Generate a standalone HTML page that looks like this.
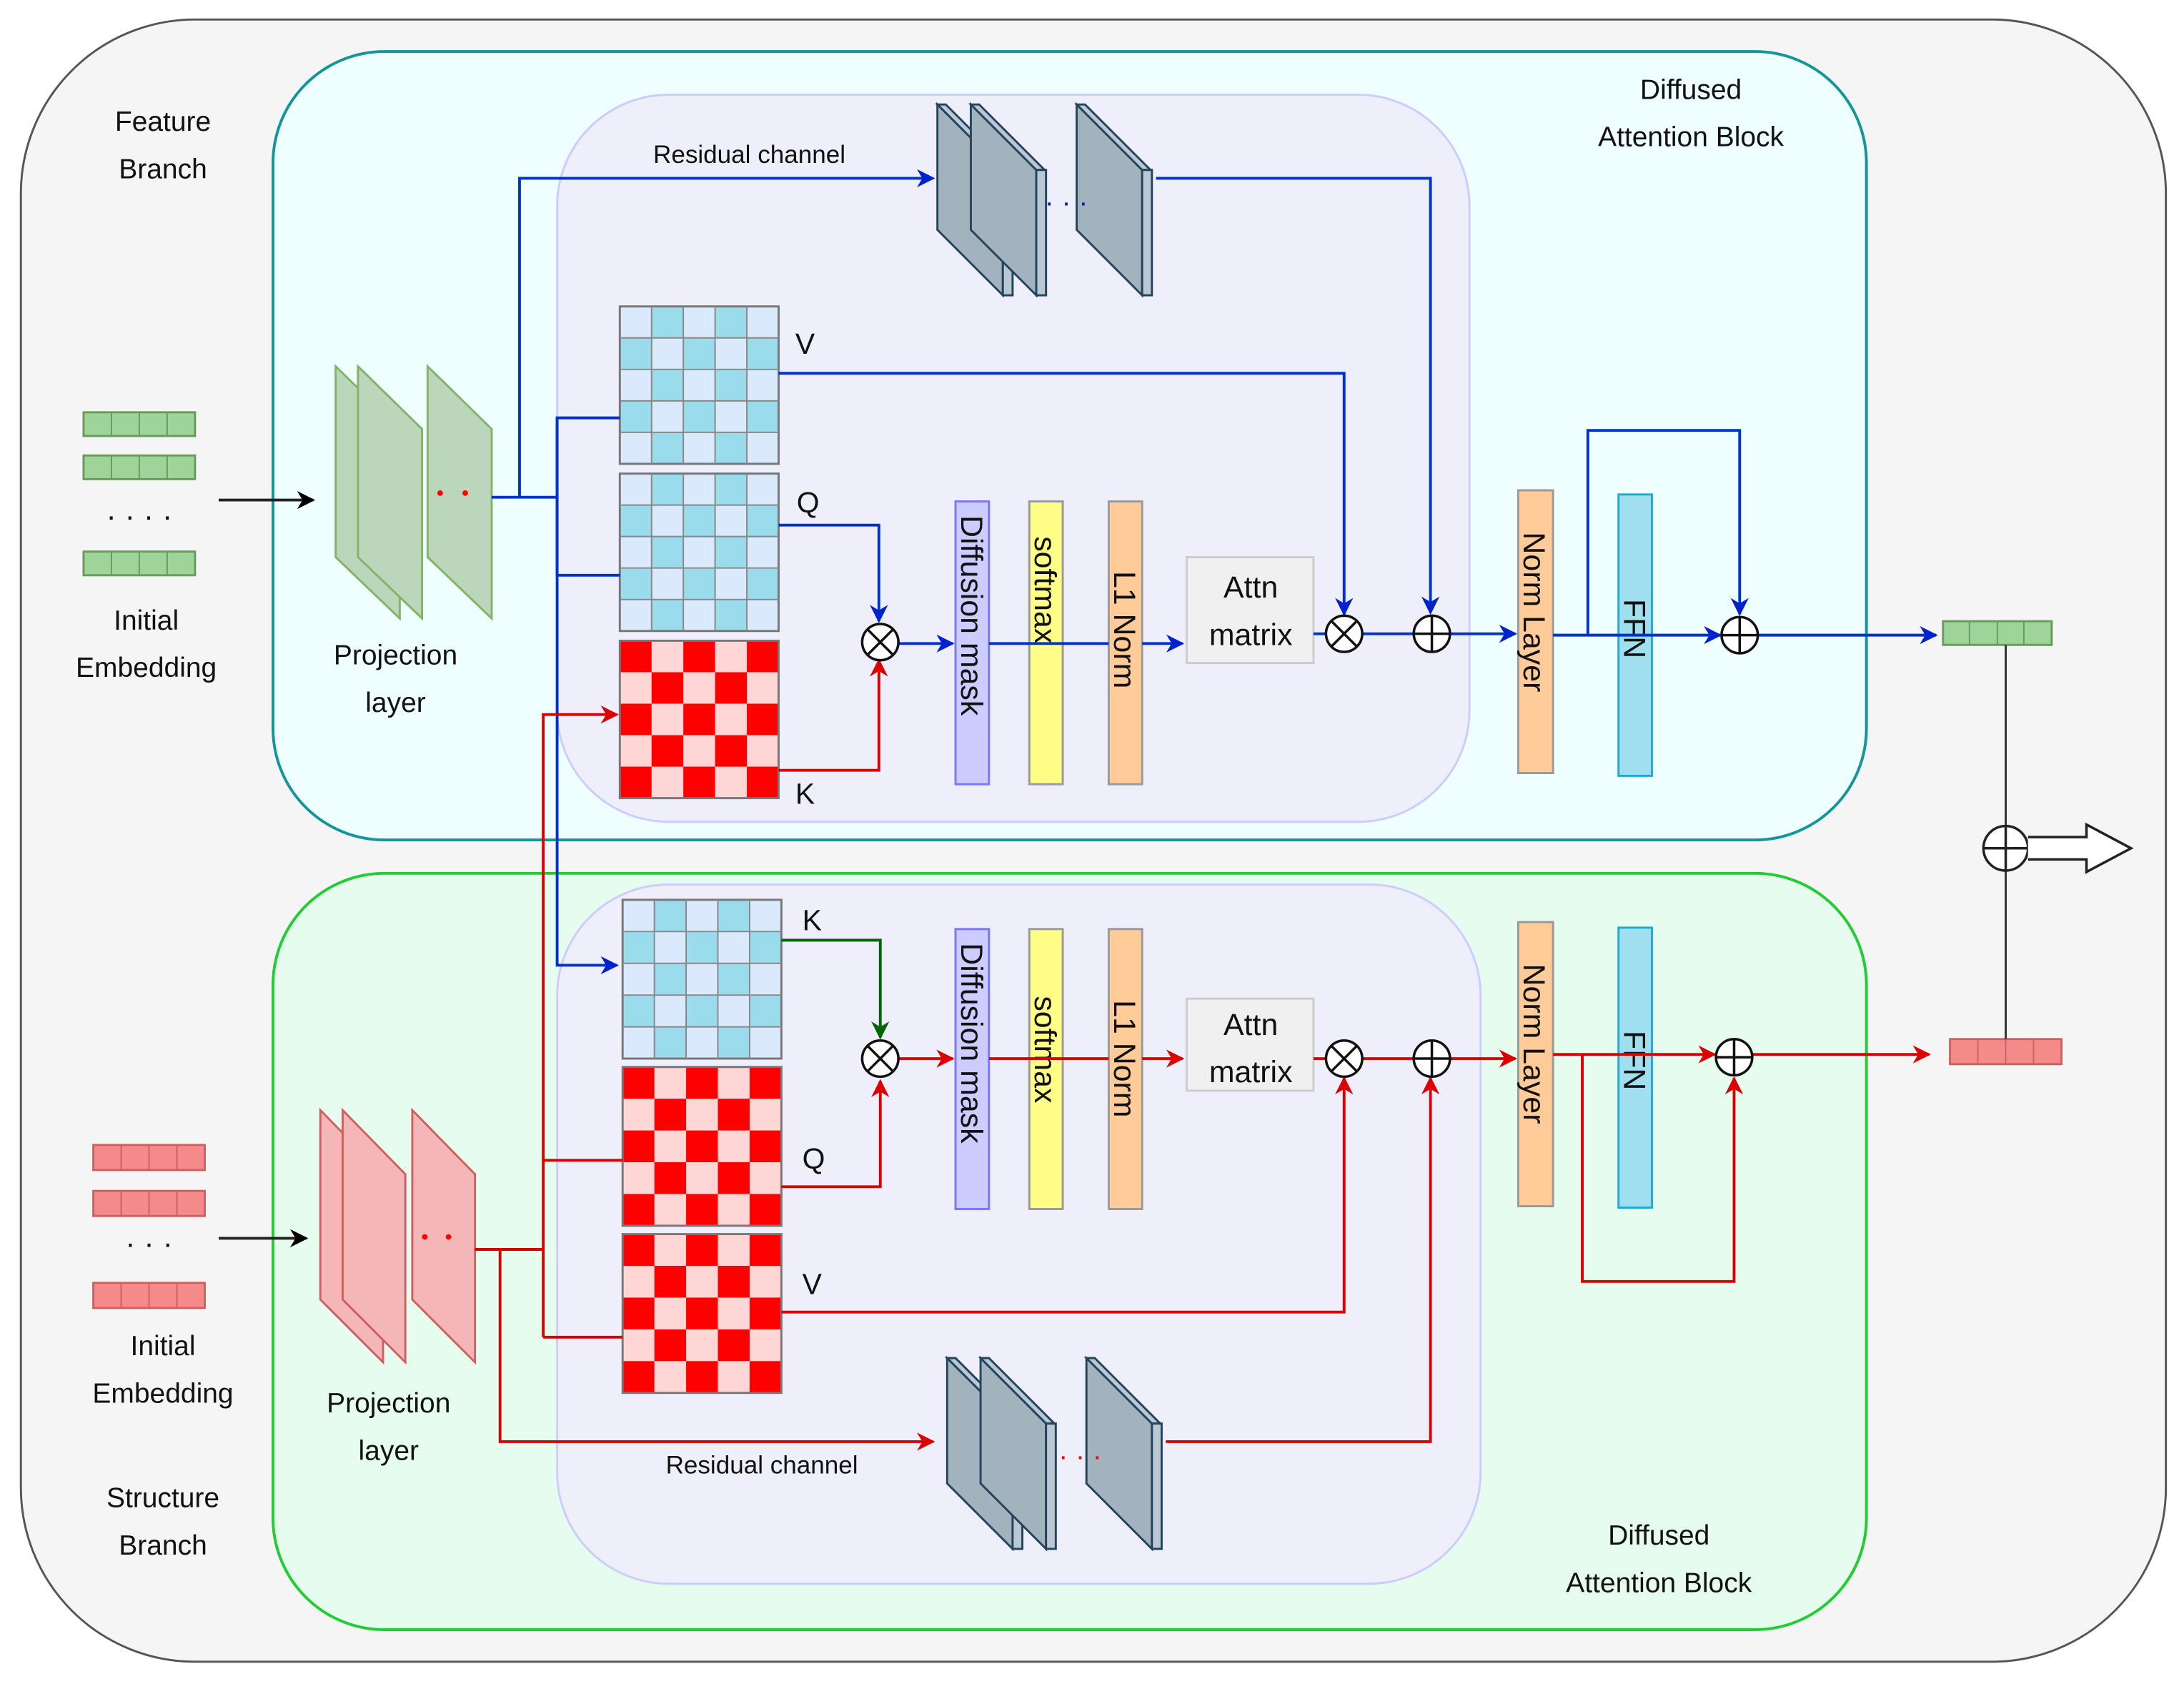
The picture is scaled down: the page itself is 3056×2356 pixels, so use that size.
<!DOCTYPE html>
<html><head><meta charset="utf-8">
<style>html,body{margin:0;padding:0;background:#fff}svg{display:block}text{font-family:"Liberation Sans",sans-serif}</style>
</head><body>
<svg width="3056" height="2356" viewBox="0 0 1568 1209" preserveAspectRatio="none" xmlns="http://www.w3.org/2000/svg">
<defs>
<pattern id="pb" width="0.4" height="0.4" patternUnits="objectBoundingBox" patternContentUnits="objectBoundingBox">
<rect width="0.4" height="0.4" fill="#dae9fb"/><rect x="0.2" width="0.2" height="0.2" fill="#9adcec"/><rect y="0.2" width="0.2" height="0.2" fill="#9adcec"/>
</pattern>
<pattern id="pr" width="0.4" height="0.4" patternUnits="objectBoundingBox" patternContentUnits="objectBoundingBox">
<rect width="0.4" height="0.4" fill="#ff0000"/><rect x="0.2" width="0.2" height="0.2" fill="#ffd6d6"/><rect y="0.2" width="0.2" height="0.2" fill="#ffd6d6"/>
</pattern>
<marker id="ab" viewBox="0 0 10 10" refX="9" refY="5" markerWidth="13" markerHeight="13" orient="auto" markerUnits="userSpaceOnUse"><path d="M0,0 L10,5 L0,10 L3,5z" fill="#0022cc"/></marker>
<marker id="ar" viewBox="0 0 10 10" refX="9" refY="5" markerWidth="13" markerHeight="13" orient="auto" markerUnits="userSpaceOnUse"><path d="M0,0 L10,5 L0,10 L3,5z" fill="#dd0000"/></marker>
<marker id="ag" viewBox="0 0 10 10" refX="9" refY="5" markerWidth="13" markerHeight="13" orient="auto" markerUnits="userSpaceOnUse"><path d="M0,0 L10,5 L0,10 L3,5z" fill="#006600"/></marker>
<marker id="ak" viewBox="0 0 10 10" refX="9" refY="5" markerWidth="13" markerHeight="13" orient="auto" markerUnits="userSpaceOnUse"><path d="M0,0 L10,5 L0,10 L3,5z" fill="#000"/></marker>
<style>
.ab{marker-end:url(#ab)} .ar{marker-end:url(#ar)} .ag{marker-end:url(#ag)}
</style>
</defs>
<rect x="0" y="0" width="1568" height="1209" fill="#fff"/>
<rect x="15" y="14" width="1540" height="1179" rx="125" fill="#f5f5f5" stroke="#555" stroke-width="1.5"/>
<rect x="196" y="37" width="1144" height="566" rx="80" fill="#effefe" stroke="#12969a" stroke-width="2"/>
<rect x="196" y="627" width="1144" height="543" rx="80" fill="#e6fcee" stroke="#22cc33" stroke-width="2"/>
<rect x="400" y="68" width="655" height="522" rx="80" fill="#efeefb" stroke="#ccccff" stroke-width="1.5"/>
<rect x="400" y="635" width="663" height="502" rx="80" fill="#efeefb" stroke="#ccccff" stroke-width="1.5"/>

<g font-size="20" fill="#111" text-anchor="middle">
<text x="117" y="94">Feature</text><text x="117" y="128">Branch</text>
<text x="105" y="452">Initial</text><text x="105" y="486">Embedding</text>
<text x="284" y="477">Projection</text><text x="284" y="511">layer</text>
<text x="1214" y="71">Diffused</text><text x="1214" y="105">Attention Block</text>
<text x="1191" y="1109">Diffused</text><text x="1191" y="1143">Attention Block</text>
<text x="117" y="1082">Structure</text><text x="117" y="1116">Branch</text>
<text x="117" y="973">Initial</text><text x="117" y="1007">Embedding</text>
<text x="279" y="1014">Projection</text><text x="279" y="1048">layer</text>
<text x="538" y="117" font-size="18">Residual channel</text>
<text x="547" y="1058" font-size="18">Residual channel</text>
</g>
<g font-size="21" fill="#111">
<text x="571" y="254">V</text><text x="572" y="368">Q</text><text x="571" y="577">K</text>
<text x="576" y="668">K</text><text x="576" y="839">Q</text><text x="576" y="929">V</text>
</g>

<g stroke="#6a9a5a" stroke-width="1.5" fill="#9ed49a">
<rect x="60" y="296" width="80" height="17"/><rect x="60" y="327" width="80" height="17"/><rect x="60" y="396" width="80" height="17"/>
<rect x="1395" y="446" width="78" height="17"/>
</g>
<g stroke="#6a9a5a" stroke-width="1">
<path d="M80,296v17M100,296v17M120,296v17M80,327v17M100,327v17M120,327v17M80,396v17M100,396v17M120,396v17M1414,446v17M1434,446v17M1453,446v17"/>
</g>
<g stroke="#d06060" stroke-width="1.5" fill="#f58a8a">
<rect x="67" y="822" width="80" height="18"/><rect x="67" y="855" width="80" height="18"/><rect x="67" y="921" width="80" height="18"/>
<rect x="1400" y="746" width="80" height="18"/>
</g>
<g stroke="#d06060" stroke-width="1">
<path d="M87,822v18M107,822v18M127,822v18M87,855v18M107,855v18M127,855v18M87,921v18M107,921v18M127,921v18M1420,746v18M1440,746v18M1460,746v18"/>
</g>
<g font-size="22" fill="#111" text-anchor="middle"><text x="100" y="378">· · · ·</text><text x="107" y="900">· · ·</text></g>

<g fill="#bcd6bc" stroke="#82b366" stroke-width="1.5">
<polygon points="241,263 287,308 287,444 241,400"/>
<polygon points="257,263 303,308 303,444 257,400"/>
<polygon points="307,263 353,308 353,444 307,400"/>
</g>
<circle cx="316" cy="354" r="2" fill="red"/><circle cx="334" cy="354" r="2" fill="red"/>
<g fill="#f4b6b6" stroke="#d06060" stroke-width="1.5">
<polygon points="230,797 275,843 275,978 230,933"/>
<polygon points="246,797 291,843 291,978 246,933"/>
<polygon points="296,797 341,843 341,978 296,933"/>
</g>
<circle cx="305" cy="888" r="2" fill="red"/><circle cx="322" cy="888" r="2" fill="red"/>

<g stroke="#23445d" stroke-width="1.5">
<g id="blk"><polygon points="673,75 720,122 720,212 673,165" fill="#a3b3bd"/><polygon points="673,75 679,75 726,122 720,122" fill="#bac8d3"/><rect x="720" y="122" width="7" height="90" fill="#bac8d3"/></g>
<use href="#blk" x="24"/>
<use href="#blk" x="100"/>
<use href="#blk" x="7" y="900"/>
<use href="#blk" x="31" y="900"/>
<use href="#blk" x="107" y="900"/>
</g>
<g font-size="20" fill="#0022cc"><text x="750" y="152">· · ·</text></g>
<g font-size="20" fill="#ff0000"><text x="760" y="1052">· · ·</text></g>

<rect x="445" y="220" width="114" height="113" fill="url(#pb)" stroke="#777" stroke-width="1.5"/>
<rect x="445" y="340" width="114" height="113" fill="url(#pb)" stroke="#777" stroke-width="1.5"/>
<rect x="445" y="460" width="114" height="113" fill="url(#pr)" stroke="#777" stroke-width="1.5"/>
<rect x="447" y="646" width="114" height="114" fill="url(#pb)" stroke="#777" stroke-width="1.5"/>
<rect x="447" y="766" width="114" height="114" fill="url(#pr)" stroke="#777" stroke-width="1.5"/>
<rect x="447" y="886" width="114" height="114" fill="url(#pr)" stroke="#777" stroke-width="1.5"/>
<g stroke="#888" stroke-width="1" fill="none">
<path d="M467.8,220v113M490.6,220v113M513.4,220v113M536.2,220v113M445,242.6h114M445,265.2h114M445,287.8h114M445,310.4h114"/>
<path d="M467.8,340v113M490.6,340v113M513.4,340v113M536.2,340v113M445,362.6h114M445,385.2h114M445,407.8h114M445,430.4h114"/>
<path d="M469.8,646v114M492.6,646v114M515.4,646v114M538.2,646v114M447,668.8h114M447,691.6h114M447,714.4h114M447,737.2h114"/>
</g>

<g stroke-width="1.5">
<rect x="686" y="360" width="24" height="203" fill="#ccccff" stroke="#7777ff"/>
<rect x="739" y="360" width="24" height="203" fill="#ffff88" stroke="#999"/>
<rect x="796" y="360" width="24" height="203" fill="#ffcc99" stroke="#999"/>
<rect x="1090" y="352" width="25" height="203" fill="#ffcc99" stroke="#999"/>
<rect x="1162" y="355" width="24" height="202" fill="#a0dff0" stroke="#22aacc"/>
<rect x="686" y="667" width="24" height="201" fill="#ccccff" stroke="#7777ff"/>
<rect x="739" y="667" width="24" height="201" fill="#ffff88" stroke="#999"/>
<rect x="796" y="667" width="24" height="201" fill="#ffcc99" stroke="#999"/>
<rect x="1090" y="662" width="25" height="204" fill="#ffcc99" stroke="#999"/>
<rect x="1162" y="666" width="24" height="201" fill="#a0dff0" stroke="#22aacc"/>
<rect x="852" y="400" width="91" height="76" fill="#f0f0f0" stroke="#ccc"/>
<rect x="852" y="717" width="91" height="66" fill="#f0f0f0" stroke="#ccc"/>
</g>
<g font-size="22" fill="#111" text-anchor="middle">
<text x="898" y="429">Attn</text><text x="898" y="463">matrix</text>
<text x="898" y="743">Attn</text><text x="898" y="777">matrix</text>
</g>
<g font-size="22" fill="#111">
<text transform="translate(690,370) rotate(90)">Diffusion mask</text>
<text transform="translate(743,385) rotate(90)">softmax</text>
<text transform="translate(800,410) rotate(90)">L1 Norm</text>
<text transform="translate(1094,382) rotate(90)">Norm Layer</text>
<text transform="translate(1166,430) rotate(90)">FFN</text>
<text transform="translate(690,677) rotate(90)">Diffusion mask</text>
<text transform="translate(743,715) rotate(90)">softmax</text>
<text transform="translate(800,718) rotate(90)">L1 Norm</text>
<text transform="translate(1094,692) rotate(90)">Norm Layer</text>
<text transform="translate(1166,740) rotate(90)">FFN</text>
</g>

<line x1="157" y1="359" x2="225" y2="359" stroke="#222" stroke-width="2" marker-end="url(#ak)"/>
<line x1="157" y1="889" x2="220" y2="889" stroke="#222" stroke-width="2" marker-end="url(#ak)"/>

<g fill="none" stroke="#0033cc" stroke-width="2">
<path d="M353,357H400"/>
<path class="ab" d="M373,357V128H670"/>
<path d="M445,300H400V413H445"/>
<path class="ab" d="M400,300V693H443"/>
<path class="ab" d="M830,128H1027V440"/>
<path class="ab" d="M559,268H965V441"/>
<path class="ab" d="M559,377H631V446"/>
<path class="ab" d="M645,462H684"/>
<path d="M710,462H796"/>
<path class="ab" d="M820,462H849"/>
<path d="M943,455H952M978,455H1015"/>
<path class="ab" d="M1041,455H1088"/>
<path class="ab" d="M1115,456H1235"/>
<path class="ab" d="M1140,456V309H1249V441"/>
<path class="ab" d="M1262,456H1390"/>
</g>
<g fill="none" stroke="#dd0000" stroke-width="2">
<path class="ar" d="M559,553H631V474"/>
<path class="ar" d="M390,960V513H443"/>
<path d="M341,897H390M390,833H447M390,960H447"/>
<path class="ar" d="M359,897V1035H670"/>
<path class="ar" d="M561,852H632V776"/>
<path class="ar" d="M645,760H684"/>
<path d="M710,760H796"/>
<path class="ar" d="M820,760H849"/>
<path class="ar" d="M561,942H965V774"/>
<path class="ar" d="M837,1035H1027V774"/>
<path d="M943,760H952M978,760H1015"/>
<path class="ar" d="M1041,760H1088"/>
<path class="ar" d="M1115,757H1231"/>
<path class="ar" d="M1136,757V920H1245V774"/>
<path class="ar" d="M1258,757H1385"/>
</g>
<path d="M561,675H632V745" fill="none" stroke="#006600" stroke-width="2" marker-end="url(#ag)"/>

<g fill="#fff" stroke="#111" stroke-width="1.8">
<g id="ot"><circle cx="632" cy="461" r="13"/><path d="M623,452L641,470M641,452L623,470"/></g>
<use href="#ot" x="333" y="-6"/>
<use href="#ot" x="0" y="299"/>
<use href="#ot" x="333" y="299"/>
<g id="op"><circle cx="1028" cy="455" r="13"/><path d="M1015,455H1041M1028,442V468"/></g>
<use href="#op" x="221" y="1"/>
<use href="#op" x="0" y="305"/>
<use href="#op" x="217" y="304"/>
</g>
<line x1="1440" y1="463" x2="1440" y2="746" stroke="#333" stroke-width="1.5"/>
<circle cx="1440" cy="609" r="16" fill="#fff" stroke="#222" stroke-width="1.8"/>
<path d="M1424,609H1456M1440,593V625" stroke="#222" stroke-width="1.8"/>
<path d="M1456,601H1498V592L1530,609L1498,626V617H1456" fill="#fff" stroke="#222" stroke-width="1.8"/>
</svg>
</body></html>
